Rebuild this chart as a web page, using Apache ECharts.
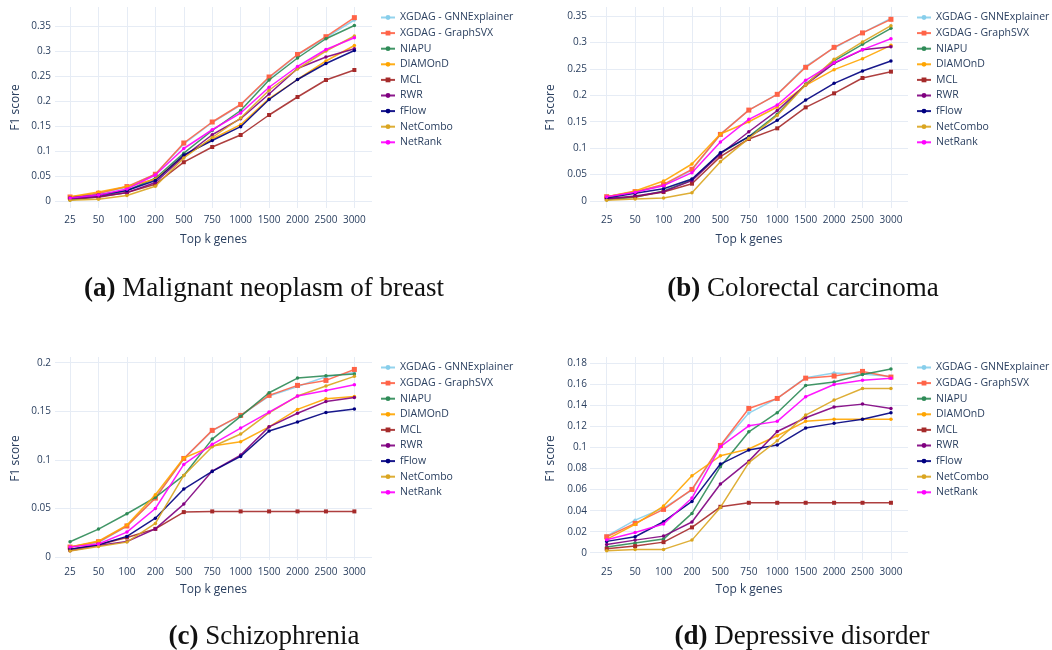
<!DOCTYPE html>
<html>
<head>
<meta charset="utf-8">
<script src="https://cdn.jsdelivr.net/npm/echarts@6/dist/echarts.min.js"></script>
<style>
  html, body { margin: 0; padding: 0; background: #ffffff; }
  #chart { width: 1052px; height: 650px; }
</style>
</head>
<body>
<div id="chart"></div>
<script>
// Top-k cut-offs shared by every panel
const topK = ['25', '50', '100', '200', '500', '750', '1000', '1500', '2000', '2500', '3000'];

const methods = ['XGDAG - GNNExplainer', 'XGDAG - GraphSVX', 'NIAPU', 'DIAMOnD', 'MCL', 'RWR', 'fFlow', 'NetCombo', 'NetRank'];

// Y tick values per panel
const yTicksBreast = [0, 0.05, 0.1, 0.15, 0.2, 0.25, 0.3, 0.35];
const yTicksColorectal = [0, 0.05, 0.1, 0.15, 0.2, 0.25, 0.3, 0.35];
const yTicksSchizo = [0, 0.05, 0.1, 0.15, 0.2];
const yTicksDepressive = [0, 0.02, 0.04, 0.06, 0.08, 0.1, 0.12, 0.14, 0.16, 0.18];

// (a) Malignant neoplasm of breast
const breastGNNExplainer = [0.0075, 0.015, 0.0274, 0.0535, 0.114, 0.157, 0.192, 0.246, 0.292, 0.327, 0.362];
const breastGraphSVX     = [0.008, 0.0154, 0.0288, 0.0535, 0.116, 0.158, 0.193, 0.248, 0.293, 0.3286, 0.3667];
const breastNIAPU        = [0.002, 0.0087, 0.021, 0.0455, 0.0957, 0.141, 0.181, 0.242, 0.286, 0.3245, 0.351];
const breastDIAMOnD      = [0.0087, 0.018, 0.029, 0.0435, 0.09, 0.124, 0.1526, 0.205, 0.243, 0.28, 0.311];
const breastMCL          = [0.0047, 0.0074, 0.017, 0.0335, 0.0776, 0.108, 0.132, 0.172, 0.208, 0.242, 0.262];
const breastRWR          = [0.0047, 0.009, 0.0167, 0.037, 0.089, 0.1325, 0.1646, 0.214, 0.265, 0.288, 0.3045];
const breastFFlow        = [0.006, 0.012, 0.021, 0.041, 0.092, 0.121, 0.1486, 0.203, 0.243, 0.275, 0.301];
const breastNetCombo     = [0.0015, 0.0035, 0.011, 0.0295, 0.086, 0.127, 0.166, 0.2215, 0.264, 0.3, 0.33];
const breastNetRank      = [0.006, 0.012, 0.024, 0.052, 0.105, 0.1425, 0.176, 0.2275, 0.269, 0.303, 0.3265];

// (b) Colorectal carcinoma
const colorectalGNNExplainer = [0.008, 0.0177, 0.03, 0.0586, 0.126, 0.172, 0.2018, 0.2548, 0.2895, 0.318, 0.3456];
const colorectalGraphSVX     = [0.0082, 0.0177, 0.0315, 0.06, 0.126, 0.172, 0.2018, 0.2529, 0.2907, 0.318, 0.3437];
const colorectalNIAPU        = [0.0025, 0.007, 0.019, 0.0397, 0.0902, 0.1217, 0.164, 0.2213, 0.265, 0.2964, 0.3267];
const colorectalDIAMOnD      = [0.0082, 0.019, 0.0378, 0.07, 0.1268, 0.15, 0.1778, 0.2188, 0.2485, 0.2693, 0.2945];
const colorectalMCL          = [0.0044, 0.008, 0.017, 0.0328, 0.0839, 0.1173, 0.1375, 0.1772, 0.2037, 0.2327, 0.2447];
const colorectalRWR          = [0.0044, 0.0095, 0.0177, 0.0385, 0.089, 0.131, 0.171, 0.22, 0.2605, 0.286, 0.292];
const colorectalFFlow        = [0.0057, 0.0145, 0.0233, 0.0416, 0.0914, 0.1217, 0.1526, 0.191, 0.2226, 0.246, 0.265];
const colorectalNetCombo     = [0.0013, 0.0038, 0.0057, 0.0158, 0.0744, 0.1186, 0.162, 0.22, 0.268, 0.301, 0.3317];
const colorectalNetRank      = [0.008, 0.0164, 0.029, 0.0536, 0.1116, 0.1545, 0.1816, 0.2283, 0.2617, 0.2863, 0.307];

// (c) Schizophrenia
const schizoGNNExplainer = [0.0103, 0.015, 0.032, 0.0614, 0.101, 0.13, 0.1458, 0.1657, 0.1756, 0.1856, 0.19];
const schizoGraphSVX     = [0.0103, 0.0158, 0.032, 0.0607, 0.1015, 0.1304, 0.1458, 0.1664, 0.1767, 0.1818, 0.1931];
const schizoNIAPU        = [0.0158, 0.0288, 0.0446, 0.0614, 0.084, 0.1214, 0.1448, 0.1691, 0.1842, 0.1866, 0.1883];
const schizoDIAMOnD      = [0.0103, 0.0165, 0.0329, 0.0641, 0.102, 0.1142, 0.1187, 0.134, 0.152, 0.163, 0.1653];
const schizoMCL          = [0.0079, 0.0127, 0.0202, 0.029, 0.0463, 0.047, 0.047, 0.047, 0.047, 0.047, 0.047];
const schizoRWR          = [0.0065, 0.012, 0.016, 0.029, 0.0545, 0.0885, 0.105, 0.134, 0.148, 0.16, 0.1643];
const schizoFFlow        = [0.0082, 0.0127, 0.0213, 0.04, 0.07, 0.0882, 0.1036, 0.1297, 0.139, 0.1489, 0.1523];
const schizoNetCombo     = [0.0062, 0.011, 0.0154, 0.0346, 0.084, 0.1136, 0.1266, 0.1485, 0.1657, 0.176, 0.186];
const schizoNetRank      = [0.0103, 0.0134, 0.0257, 0.05, 0.0954, 0.116, 0.1328, 0.1492, 0.1657, 0.1715, 0.1774];

// (d) Depressive disorder
const depressiveGNNExplainer = [0.0158, 0.031, 0.0425, 0.0596, 0.1014, 0.1328, 0.1467, 0.1664, 0.1708, 0.17, 0.1676];
const depressiveGraphSVX     = [0.0152, 0.0279, 0.0412, 0.0602, 0.102, 0.1372, 0.1467, 0.166, 0.168, 0.1724, 0.167];
const depressiveNIAPU        = [0.0054, 0.0092, 0.013, 0.0374, 0.0818, 0.115, 0.1331, 0.159, 0.1623, 0.1695, 0.1746];
const depressiveDIAMOnD      = [0.0127, 0.0269, 0.0444, 0.0732, 0.0922, 0.0986, 0.1112, 0.1249, 0.1268, 0.1268, 0.1268];
const depressiveMCL          = [0.0038, 0.0063, 0.0101, 0.0241, 0.0437, 0.0475, 0.0475, 0.0475, 0.0475, 0.0475, 0.0475];
const depressiveRWR          = [0.0079, 0.012, 0.0158, 0.0292, 0.0653, 0.0871, 0.1153, 0.1283, 0.1385, 0.1413, 0.1372];
const depressiveFFlow        = [0.0108, 0.0152, 0.0295, 0.0488, 0.0843, 0.0976, 0.1024, 0.1185, 0.123, 0.127, 0.1331];
const depressiveNetCombo     = [0.0019, 0.0032, 0.0032, 0.012, 0.0431, 0.0856, 0.1065, 0.1309, 0.1451, 0.1562, 0.1562];
const depressiveNetRank      = [0.0124, 0.0193, 0.0273, 0.052, 0.1008, 0.1207, 0.1249, 0.1483, 0.16, 0.1641, 0.166];

// ---- styling ----
const FONT = '"Open Sans", "Liberation Sans", Arial, sans-serif';
const SERIF = '"Liberation Serif", serif';
const INK = '#2a3f5f';
const GRID_LINE = '#e6ecf5';

const methodColors = ['#87ceeb', '#ff6347', '#2e8b57', '#ffa500', '#a52a2a', '#800080', '#000080', '#daa520', '#ff00ff'];
const methodSymbols = ['circle', 'rect', 'circle', 'circle', 'rect', 'circle', 'circle', 'circle', 'circle'];
const methodSymbolSize = [3.5, 5, 3.5, 3.5, 4, 3.5, 3.5, 3.5, 3.5];

const panels = [
  {
    caption: '(a)', title: ' Malignant neoplasm of breast',
    series: [breastGNNExplainer, breastGraphSVX, breastNIAPU, breastDIAMOnD, breastMCL, breastRWR, breastFFlow, breastNetCombo, breastNetRank],
    yTicks: yTicksBreast, yMin: -0.014, yMax: 0.388,
    grid: { left: 55, top: 7, width: 317, height: 201 },
    xMin: -0.53, xMax: 10.62, yLabelMargin: 4, xNameGap: 26,
    legend: { left: 380, top: 11.5 },
    captionPos: [264, 289]
  },
  {
    caption: '(b)', title: ' Colorectal carcinoma',
    series: [colorectalGNNExplainer, colorectalGraphSVX, colorectalNIAPU, colorectalDIAMOnD, colorectalMCL, colorectalRWR, colorectalFFlow, colorectalNetCombo, colorectalNetRank],
    yTicks: yTicksColorectal, yMin: -0.0132, yMax: 0.367,
    grid: { left: 590, top: 7, width: 318, height: 201 },
    xMin: -0.587, xMax: 10.6, yLabelMargin: 3, xNameGap: 26,
    legend: { left: 916, top: 11.5 },
    captionPos: [803, 289]
  },
  {
    caption: '(c)', title: ' Schizophrenia',
    series: [schizoGNNExplainer, schizoGraphSVX, schizoNIAPU, schizoDIAMOnD, schizoMCL, schizoRWR, schizoFFlow, schizoNetCombo, schizoNetRank],
    yTicks: yTicksSchizo, yMin: -0.003, yMax: 0.2059,
    grid: { left: 55, top: 357, width: 317, height: 203 },
    xMin: -0.53, xMax: 10.62, yLabelMargin: 4, xNameGap: 24,
    legend: { left: 380, top: 361.5 },
    captionPos: [264, 637]
  },
  {
    caption: '(d)', title: ' Depressive disorder',
    series: [depressiveGNNExplainer, depressiveGraphSVX, depressiveNIAPU, depressiveDIAMOnD, depressiveMCL, depressiveRWR, depressiveFFlow, depressiveNetCombo, depressiveNetRank],
    yTicks: yTicksDepressive, yMin: -0.0069, yMax: 0.1861,
    grid: { left: 590, top: 357, width: 318, height: 203 },
    xMin: -0.587, xMax: 10.6, yLabelMargin: 3, xNameGap: 24,
    legend: { left: 916, top: 361.5 },
    captionPos: [802, 637]
  }
];

const xTickValues = topK.map((_, i) => i);

const option = {
  backgroundColor: '#ffffff',
  animation: false,
  textStyle: { fontFamily: FONT },
  grid: panels.map(p => Object.assign({ containLabel: false, outerBoundsMode: 'none' }, p.grid)),
  xAxis: panels.map((p, i) => ({
    type: 'value',
    gridIndex: i,
    min: p.xMin,
    max: p.xMax,
    axisLine: { show: false },
    axisTick: { show: false, customValues: xTickValues },
    axisLabel: {
      customValues: xTickValues,
      formatter: v => topK[Math.round(v)],
      color: INK, fontSize: 10, fontFamily: FONT, margin: 7
    },
    splitLine: { show: true, lineStyle: { color: GRID_LINE, width: 1 } },
    name: 'Top k genes',
    nameLocation: 'middle',
    nameGap: p.xNameGap,
    nameTextStyle: { color: INK, fontSize: 12, fontFamily: FONT }
  })),
  yAxis: panels.map((p, i) => ({
    type: 'value',
    gridIndex: i,
    min: p.yMin,
    max: p.yMax,
    axisLine: { show: false },
    axisTick: { show: false, customValues: p.yTicks },
    axisLabel: {
      customValues: p.yTicks,
      formatter: v => String(+(+v).toFixed(4)),
      color: INK, fontSize: 10, fontFamily: FONT, margin: p.yLabelMargin
    },
    splitLine: { show: true, lineStyle: { color: GRID_LINE, width: 1 } },
    name: 'F1 score',
    nameLocation: 'middle',
    nameGap: 33,
    nameTextStyle: { color: INK, fontSize: 12, fontFamily: FONT }
  })),
  legend: panels.map(p => ({
    orient: 'vertical',
    left: p.legend.left,
    top: p.legend.top,
    padding: 0,
    itemWidth: 14,
    itemHeight: 6,
    itemGap: 3.6,
    selectedMode: false,
    textStyle: { color: INK, fontSize: 10.5, fontFamily: FONT, lineHeight: 12 },
    data: methods
  })),
  series: [],
  graphic: panels.map(p => ({
    type: 'text',
    x: p.captionPos[0],
    y: p.captionPos[1],
    style: {
      text: '{b|' + p.caption + '}{r|' + p.title + '}',
      align: 'center',
      verticalAlign: 'middle',
      textAlign: 'center',
      textVerticalAlign: 'middle',
      fill: '#000',
      font: '27px ' + SERIF,
      rich: {
        b: { fontFamily: SERIF, fontSize: 27, fontWeight: 'bold', fill: '#111', color: '#111' },
        r: { fontFamily: SERIF, fontSize: 27, fontWeight: 'normal', fill: '#111', color: '#111' }
      }
    }
  }))
};

panels.forEach((p, pi) => {
  p.series.forEach((vals, mi) => {
    option.series.push({
      type: 'line',
      name: methods[mi],
      xAxisIndex: pi,
      yAxisIndex: pi,
      data: vals.map((v, k) => [k, v]),
      symbol: methodSymbols[mi],
      symbolSize: methodSymbolSize[mi],
      showSymbol: true,
      color: methodColors[mi],
      lineStyle: { width: 1.5, color: methodColors[mi], opacity: 0.9 },
      itemStyle: { color: methodColors[mi] },
      emphasis: { disabled: true },
      z: 2 + mi
    });
  });
});

const chart = echarts.init(document.getElementById('chart'), null, { renderer: 'canvas', width: 1052, height: 650 });
chart.setOption(option);
</script>
</body>
</html>
